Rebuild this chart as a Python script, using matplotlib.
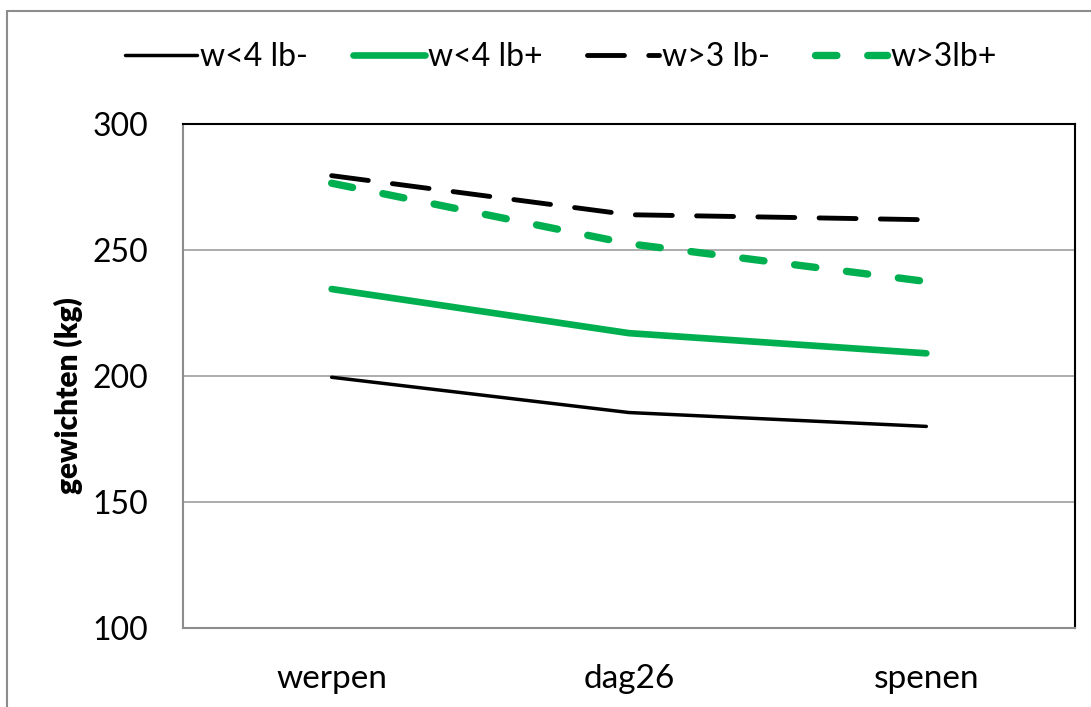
import matplotlib.pyplot as plt
from matplotlib.patches import Rectangle

plt.rcParams['font.family'] = ['Lato', 'DejaVu Sans']

categories = ['werpen', 'dag26', 'spenen']
w4_min = [199.5, 185.5, 180]
w4_plus = [234.5, 217, 209]
w3_min = [279.5, 264, 262]
w3_plus = [276.5, 252.5, 237.5]

green = '#00b050'

fig = plt.figure(figsize=(10.91, 7.07), dpi=100)
# outer chart frame
fig.patches.append(Rectangle((7 / 1091, -0.1), 1.2, (707 - 11) / 707 + 0.1,
                             transform=fig.transFigure, fill=False,
                             edgecolor='#8c8c8c', linewidth=1.5))

ax = fig.add_axes([183 / 1091, (707 - 628) / 707, (1075 - 183) / 1091, (628 - 124) / 707])
x = range(len(categories))

ax.plot(x, w4_min, color='black', lw=2.5, solid_capstyle='round', label='w<4 lb-')
ax.plot(x, w4_plus, color=green, lw=4.8, solid_capstyle='round', label='w<4 lb+')
ax.plot(x, w3_min, color='black', lw=3.5, dashes=(7.6, 5), dash_capstyle='round', label='w>3 lb-')
ax.plot(x, w3_plus, color=green, lw=5.3, dashes=(2.9, 4.2), dash_capstyle='round', label='w>3lb+')

ax.set_xlim(-0.5, 2.5)
ax.set_ylim(100, 300)
ax.set_yticks([100, 150, 200, 250, 300])
ax.set_xticks(list(x))
ax.set_xticklabels(categories)
ax.tick_params(axis='y', length=0, labelsize=23, pad=25)
ax.tick_params(axis='x', length=0, labelsize=24, pad=26)
ax.yaxis.grid(True, color='#a6a6a6', lw=1.3)
ax.set_axisbelow(True)
for s in ['left', 'bottom']:
    ax.spines[s].set_color('#8c8c8c')
    ax.spines[s].set_linewidth(1.5)
for s in ['top', 'right']:
    ax.spines[s].set_color('black')
    ax.spines[s].set_linewidth(1.5)

ax.set_ylabel('gewichten (kg)', fontsize=21.5, fontweight='heavy')
ax.yaxis.set_label_coords(-0.112, 0.462)

fig.legend(loc='center', bbox_to_anchor=(0.514, 0.919), ncol=4, frameon=False,
           fontsize=23, handlelength=2.25, handletextpad=0.1, columnspacing=1.4)

fig.savefig('out.png', dpi=100)
